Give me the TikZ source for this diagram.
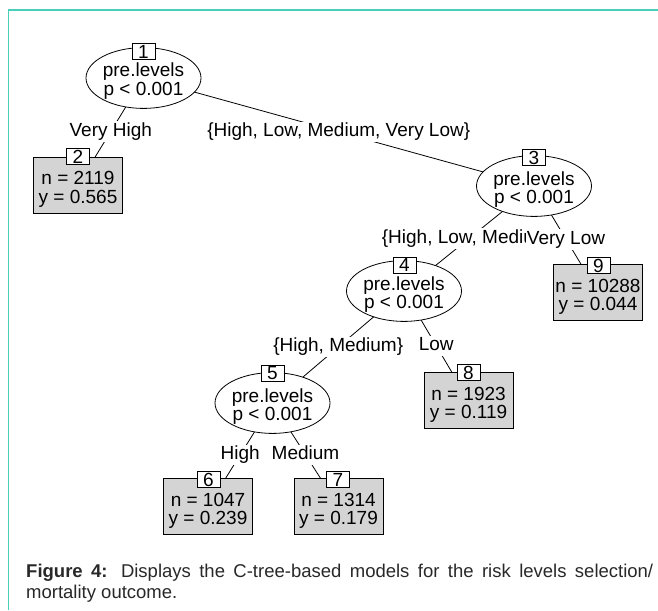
\documentclass[tikz,border=0pt]{standalone}
\usepackage{fontspec}
\setmainfont{Liberation Sans}
\usetikzlibrary{shapes.geometric,backgrounds}
\definecolor{framecol}{RGB}{72,207,186}
\definecolor{termfill}{RGB}{212,212,212}
\definecolor{captext}{RGB}{40,40,40}
\tikzset{
  treefont/.style={font=\fontsize{19}{18.5}\selectfont},
  innernode/.style={treefont, ellipse, draw, fill=white, minimum width=107pt, minimum height=58pt, inner sep=0pt, align=center, line width=0.8pt, text height=39pt, text depth=4pt},
  termnode/.style={treefont, rectangle, draw, fill=termfill, minimum width=89pt, minimum height=56pt, inner sep=0pt, align=center, line width=0.8pt, text height=40pt, text depth=4pt},
  idbox/.style={treefont, rectangle, draw, fill=white, minimum width=23pt, minimum height=16pt, inner sep=0pt, text height=13.6pt, text depth=0pt, line width=0.8pt},
  edgelab/.style={treefont, fill=white, inner xsep=0.5pt, inner ysep=1pt, text height=14pt, text depth=4.5pt},
  treeedge/.style={line width=0.8pt}
}
\begin{document}
\begin{tikzpicture}[x=1pt,y=-1pt]
\useasboundingbox (0,0) rectangle (658,610);
% frame
\draw[framecol, line width=1.6pt] (8.5,610) -- (8.5,10) -- (658,10);

% inner nodes
\node[innernode] (n1) at (143.5,78) {pre.levels\\p < 0.001};
\node[innernode] (n3) at (534,186) {pre.levels\\p < 0.001};
\node[innernode] (n4) at (404,291) {pre.levels\\p < 0.001};
\node[innernode] (n5) at (272.5,403) {pre.levels\\p < 0.001};
% terminal nodes
\node[termnode] (n2) at (78,185) {n = 2119\\y = 0.565};
\node[termnode] (n9) at (598,292.5) {n = 10288\\y = 0.044};
\node[termnode] (n8) at (468.5,400.5) {n = 1923\\y = 0.119};
\node[termnode] (n6) at (208,506.5) {n = 1047\\y = 0.239};
\node[termnode] (n7) at (338.5,506.5) {n = 1314\\y = 0.179};
% id boxes
\node[idbox] (b1) at (143.5,51.5) {1};
\node[idbox] (b3) at (534,157.5) {3};
\node[idbox] (b4) at (404.5,265) {4};
\node[idbox] (b5) at (272.5,373) {5};
\node[idbox] (b2) at (78,156.5) {2};
\node[idbox] (b9) at (598.5,265.5) {9};
\node[idbox] (b8) at (468.5,372.5) {8};
\node[idbox] (b6) at (208.5,479.5) {6};
\node[idbox] (b7) at (338,479.5) {7};

% edges
\begin{scope}[on background layer]
\draw[treeedge] (n1.center) -- node[edgelab]{Very High} (n2.center);
\draw[treeedge] (n1.center) -- node[edgelab]{\{High, Low, Medium, Very Low\}} (n3.center);
\draw[treeedge] (n3.center) -- node[edgelab]{\{High, Low, Medium\}} (n4.center);
\draw[treeedge] (n3.center) -- node[edgelab]{Very Low} (n9.center);
\draw[treeedge] (n4.center) -- node[edgelab]{\{High, Medium\}} (n5.center);
\draw[treeedge] (n4.center) -- node[edgelab]{Low} (n8.center);
\draw[treeedge] (n5.center) -- node[edgelab]{High} (n6.center);
\draw[treeedge] (n5.center) -- node[edgelab]{Medium} (n7.center);
\end{scope}

% caption
\node[anchor=base west, inner sep=0pt, font=\fontsize{18.5}{21.5}\selectfont, text=captext] (cap) at (26,577)
  {\parbox[t]{627pt}{\tolerance=9999 \textbf{Figure 4:} Displays the C-tree-based models for the risk levels selection/\linebreak mortality outcome.}};
\end{tikzpicture}
\end{document}
